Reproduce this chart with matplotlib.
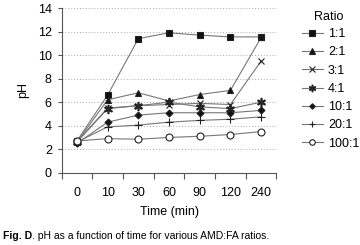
import matplotlib
matplotlib.use("Agg")
import matplotlib.pyplot as plt

plt.rcParams["font.family"] = ["Liberation Sans", "DejaVu Sans"]

times = ["0", "10", "30", "60", "90", "120", "240"]
ratios = ["1:1", "2:1", "3:1", "4:1", "10:1", "20:1", "100:1"]
ph_1_1 = [2.7, 6.6, 11.4, 11.9, 11.7, 11.55, 11.55]
ph_2_1 = [2.6, 6.2, 6.8, 6.1, 6.65, 7.0, 11.5]
ph_3_1 = [2.65, 5.5, 5.7, 5.8, 5.9, 5.8, 9.5]
ph_4_1 = [2.6, 5.45, 5.7, 6.0, 5.6, 5.45, 6.0]
ph_10_1 = [2.5, 4.3, 4.9, 5.1, 5.1, 5.1, 5.3]
ph_20_1 = [2.6, 3.9, 4.05, 4.3, 4.45, 4.55, 4.75]
ph_100_1 = [2.7, 2.9, 2.85, 3.0, 3.1, 3.25, 3.5]

series = [ph_1_1, ph_2_1, ph_3_1, ph_4_1, ph_10_1, ph_20_1, ph_100_1]
markers = ["s", "^", "x", "$\u2217$", "D", "+", "o"]
msizes = [5, 5, 5, 6, 3.5, 6, 5]
faces = ["#111111", "#111111", "none", "#333333", "#111111", "none", "white"]

fig = plt.figure(figsize=(3.6, 2.45), dpi=100)
ax = fig.add_axes([0.171, 0.295, 0.597, 0.672])
x = list(range(len(times)))
for s, lab, m, ms, fc in zip(series, ratios, markers, msizes, faces):
    ax.plot(x, s, color="#777777", lw=0.8, marker=m, ms=ms,
            mfc=fc, mec="#222222", mew=0.8, label=lab)

ax.set_xlim(-0.5, 6.5)
ax.set_ylim(0, 14)
ax.set_yticks(range(0, 15, 2))
ax.set_xticks([i + 0.5 for i in range(-1, 7)])
ax.set_xticklabels([])
ax.set_xticks(x, minor=True)
ax.set_xticklabels(times, minor=True)
ax.tick_params(axis="x", which="minor", length=0, pad=10, labelsize=9)
ax.tick_params(axis="x", which="major", length=4, direction="out", color="#555555")
ax.tick_params(axis="y", length=3, direction="out", pad=4, labelsize=9, color="#555555")
for v in range(2, 15, 2):
    ax.axhline(v, color="#aaaaaa", lw=0.7, ls=(0, (1, 2)), zorder=0)
for sp in ["top", "right"]:
    ax.spines[sp].set_visible(False)
for sp in ["left", "bottom"]:
    ax.spines[sp].set_color("#555555")
    ax.spines[sp].set_linewidth(0.8)

ax.set_xlabel("Time (min)", fontsize=9, labelpad=5)
ax.set_ylabel("pH", fontsize=9, labelpad=6)

leg = ax.legend(loc="upper left", bbox_to_anchor=(0.839, 0.885),
                bbox_transform=fig.transFigure,
                frameon=False, fontsize=9, handlelength=1.67,
                handletextpad=0.4, labelspacing=0.5, borderaxespad=0.0,
                borderpad=0.0, markerscale=0.8)
fig.text(329 / 360, 1 - 17.3 / 245, "Ratio", fontsize=9, ha="center", va="center")

fig.canvas.draw()
t1 = fig.text(0.008, 0.025, "Fig. D", fontsize=7.5, fontweight="bold")
fig.canvas.draw()
bb = t1.get_window_extent().transformed(fig.transFigure.inverted())
fig.text(bb.x1, 0.025, ". pH as a function of time for various AMD:FA ratios.", fontsize=7.5)

fig.savefig("out.png", dpi=100)
